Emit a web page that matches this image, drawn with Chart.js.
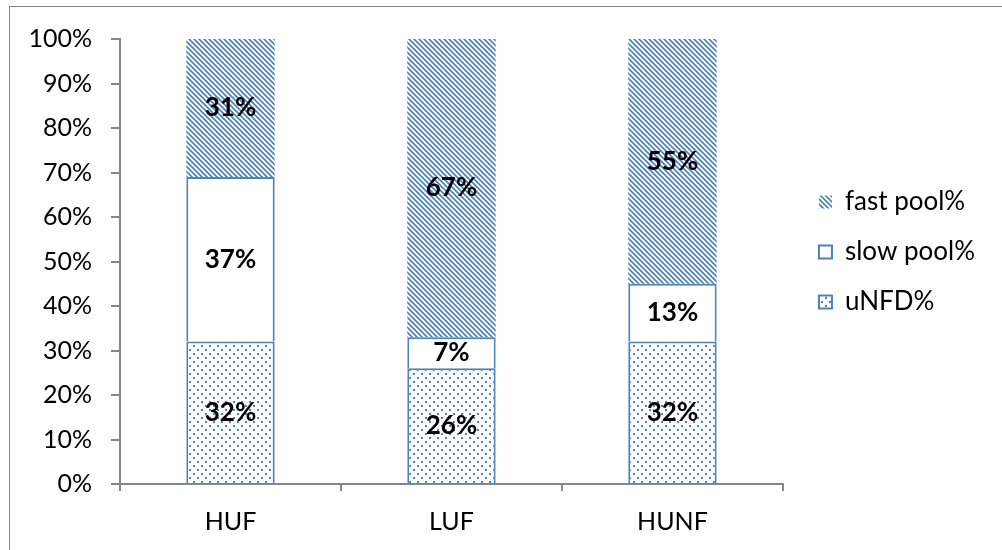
<!DOCTYPE html>
<html>
<head>
<meta charset="utf-8">
<script src="https://cdn.jsdelivr.net/npm/chart.js@4"></script>
<style>
  body { margin: 0; background: #fff; }
  #wrap { width: 1002px; height: 550px; }
</style>
</head>
<body>
<div id="wrap"><canvas id="poolChart" width="1002" height="550"></canvas></div>
<script>
const categories = ['HUF', 'LUF', 'HUNF'];
const uNFD = [32, 26, 32];
const slowPool = [37, 7, 13];
const fastPool = [31, 67, 55];
const yTicks = [0, 10, 20, 30, 40, 50, 60, 70, 80, 90, 100];

const blue = '#4F81BD';

function stripePattern() {
    const c = document.createElement('canvas');
    c.width = 5; c.height = 5;
    const g = c.getContext('2d');
    g.fillStyle = '#fff';
    g.fillRect(0, 0, 5, 5);
    g.strokeStyle = blue;
    g.lineWidth = 1.7;
    g.beginPath();
    g.moveTo(-1, -1); g.lineTo(6, 6);
    g.moveTo(-1, 4); g.lineTo(1, 6);
    g.moveTo(4, -1); g.lineTo(6, 1);
    g.stroke();
    return g.createPattern(c, 'repeat');
}

function dotPattern() {
    const c = document.createElement('canvas');
    c.width = 8; c.height = 8;
    const g = c.getContext('2d');
    g.fillStyle = '#fff';
    g.fillRect(0, 0, 8, 8);
    g.fillStyle = blue;
    g.fillRect(1, 1, 2, 2);
    g.fillRect(5, 5, 2, 2);
    return g.createPattern(c, 'repeat');
}

// data labels in the middle of each segment
const segmentLabels = {
    id: 'segmentLabels',
    afterDatasetsDraw(chart) {
        const ctx = chart.ctx;
        ctx.save();
        ctx.font = 'bold 26px Lato';
        ctx.fillStyle = '#000';
        ctx.textAlign = 'center';
        ctx.textBaseline = 'middle';
        chart.data.datasets.forEach((ds, i) => {
            chart.getDatasetMeta(i).data.forEach((bar, j) => {
                const mid = (bar.y + bar.base) / 2;
                ctx.fillText(ds.data[j] + '%', bar.x, mid);
            });
        });
        ctx.restore();
    }
};

const outerBorder = {
    id: 'outerBorder',
    beforeDraw(chart) {
        const ctx = chart.ctx;
        ctx.save();
        ctx.strokeStyle = '#868686';
        ctx.lineWidth = 1;
        ctx.strokeRect(9.5, 6.5, 1200, 800);
        ctx.restore();
    }
};

// leave a small gap between plot and legend
const legendGap = {
    id: 'legendGap',
    afterLayout(chart) {
        chart.legend.left += 12;
        chart.legend.right += 12;
    }
};

const ctx = document.getElementById('poolChart').getContext('2d');
new Chart(ctx, {
    type: 'bar',
    data: {
        labels: categories,
        datasets: [
            { label: 'uNFD%', data: uNFD, backgroundColor: dotPattern(), borderColor: blue, borderWidth: 2 },
            { label: 'slow pool%', data: slowPool, backgroundColor: '#fff', borderColor: blue, borderWidth: 2 },
            { label: 'fast pool%', data: fastPool, backgroundColor: stripePattern(), borderWidth: 0 }
        ]
    },
    options: {
        responsive: false,
        animation: false,
        layout: { padding: { left: 25, top: 39, right: 29, bottom: 0 } },
        datasets: { bar: { barPercentage: 0.4, categoryPercentage: 1 } },
        plugins: {
            legend: {
                position: 'right',
                fullSize: false,
                align: 'start',
                reverse: true,
                title: { display: true, text: '', font: { size: 20 }, padding: { top: 0, bottom: 102 } },
                labels: {
                    color: '#000',
                    font: { family: 'Lato', size: 26 },
                    boxWidth: 13,
                    boxHeight: 13,
                    padding: 24
                }
            },
            tooltip: { enabled: false }
        },
        scales: {
            x: {
                stacked: true,
                afterFit(axis) { axis.height = 66; },
                border: { color: '#868686', width: 2 },
                grid: { offset: true, drawOnChartArea: false, color: '#868686', tickLength: 7, lineWidth: 2 },
                ticks: { color: '#000', font: { family: 'Lato', size: 25 }, padding: 16 }
            },
            y: {
                stacked: true,
                min: 0,
                max: 100,
                afterBuildTicks(axis) { axis.ticks = yTicks.map(v => ({ value: v })); },
                afterFit(axis) { axis.width = 95; },
                border: { color: '#868686', width: 2 },
                grid: { drawOnChartArea: false, color: '#868686', tickLength: 9, lineWidth: 2 },
                ticks: { color: '#000', font: { family: 'Lato', size: 25 }, padding: 19, callback: v => v + '%' }
            }
        }
    },
    plugins: [segmentLabels, outerBorder, legendGap]
});
</script>
</body>
</html>
